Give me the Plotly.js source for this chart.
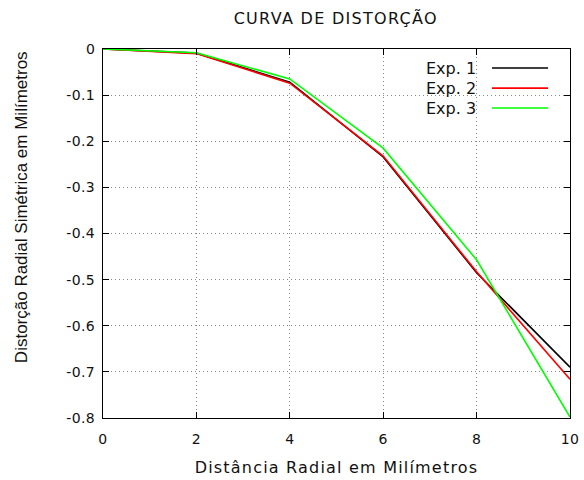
<!DOCTYPE html>
<html><head><meta charset="utf-8">
<script src="https://cdn.plot.ly/plotly-3.0.1.min.js"></script>
<style>
html,body{margin:0;padding:0;background:#fff}
.gtitle{letter-spacing:1.3px}
.xtitle{letter-spacing:1.2px}
.legtxt{letter-spacing:0.8px}
.xtick text,.ytick text{letter-spacing:0.4px}
</style>
</head><body>
<div id="chart" style="width:584px;height:480px"></div>
<script>
const radial = [0, 2, 4, 6, 8, 10];
const exp1 = [0, -0.009, -0.072, -0.234, -0.485, -0.690];
const exp2 = [0, -0.010, -0.074, -0.232, -0.483, -0.716];
const exp3 = [0, -0.008, -0.065, -0.215, -0.457, -0.798];
const seriesNames = ['Exp. 1', 'Exp. 2', 'Exp. 3'];
const seriesColors = ['#000000', '#ff0000', '#00ff00'];
const seriesData = [exp1, exp2, exp3];
const yTickVals = [0, -0.1, -0.2, -0.3, -0.4, -0.5, -0.6, -0.7, -0.8];
const yTickText = ['0', '-0.1', '-0.2', '-0.3', '-0.4', '-0.5', '-0.6', '-0.7', '-0.8'];

const fam = 'DejaVu Sans, Verdana, sans-serif';
const tickFont = {family: fam, size: 14, color: '#111'};
const titleFont = {family: fam, size: 16, color: '#111'};
const legFont = {family: fam, size: 16, color: '#111'};

const traces = seriesData.map((ys, i) => ({
  x: radial, y: ys, type: 'scatter', mode: 'lines', name: seriesNames[i],
  line: {color: seriesColors[i], width: 1.6}, showlegend: false
}));

const annotations = [{
  xref: 'paper', yref: 'paper', x: -0.173, y: 0.572, textangle: -90, showarrow: false,
  text: 'Distorção Radial Simétrica em Milímetros', xanchor: 'center', yanchor: 'middle',
  font: {family: 'Liberation Sans, Arial, sans-serif', size: 17, color: '#111'}
}];
const shapes = [{type: 'rect', xref: 'paper', yref: 'paper', x0: 0.662, x1: 0.998, y0: 0.813, y1: 0.998,
  fillcolor: '#fff', line: {width: 0}, layer: 'between'}];
const legY = [0.9485, 0.894, 0.840];
seriesNames.forEach((n, i) => {
  annotations.push({xref: 'paper', yref: 'paper', x: 0.803, y: legY[i], text: '<span class="legtxt">' + n + '</span>',
    showarrow: false, xanchor: 'right', yanchor: 'middle', font: legFont});
  shapes.push({type: 'line', xref: 'paper', yref: 'paper', x0: 0.833, x1: 0.953, y0: legY[i], y1: legY[i],
    line: {color: seriesColors[i], width: 1.6}, layer: 'above'});
});

const layout = {
  width: 584, height: 480,
  margin: {l: 103, r: 14, t: 49, b: 62},
  paper_bgcolor: '#fff', plot_bgcolor: '#fff',
  font: tickFont,
  title: {text: 'CURVA DE DISTORÇÃO', x: 0.575, xanchor: 'center', y: 0.9625, yanchor: 'middle', font: titleFont},
  xaxis: {
    range: [0, 10], dtick: 2, tick0: 0, showline: true, linecolor: '#000', linewidth: 1, mirror: 'ticks',
    ticks: 'inside', ticklen: 6, tickcolor: '#000', showgrid: true, gridcolor: '#888', griddash: '1px,3px',
    gridwidth: 1, zeroline: false, tickfont: tickFont, ticklabelstandoff: 8,
    title: {text: 'Distância Radial em Milímetros', font: titleFont, standoff: 16}
  },
  yaxis: {
    range: [-0.8, 0], tickmode: 'array', tickvals: yTickVals, ticktext: yTickText,
    showline: true, linecolor: '#000', linewidth: 1, mirror: 'ticks',
    ticks: 'inside', ticklen: 6, tickcolor: '#000', showgrid: true, gridcolor: '#888', griddash: '1px,3px',
    gridwidth: 1, zeroline: false, tickfont: tickFont, ticklabelstandoff: 4
  },
  annotations: annotations,
  shapes: shapes
};
Plotly.newPlot('chart', traces, layout, {displayModeBar: false, staticPlot: true});
</script>
</body></html>
